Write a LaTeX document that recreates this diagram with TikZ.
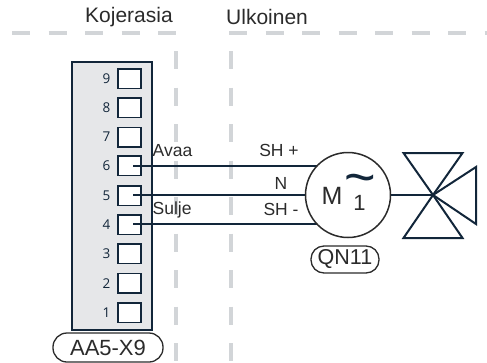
\documentclass[tikz,border=0pt]{standalone}
\usepackage{fontspec}
\setmainfont{Liberation Sans}
\newfontfamily\numfont{Open Sans}
\definecolor{wire}{HTML}{12263A}
\definecolor{dashc}{HTML}{D2D5D8}
\definecolor{boxc}{HTML}{E6E7E9}
\definecolor{txt}{HTML}{2B2B2B}
\newcommand{\fs}[1]{\fontsize{#1}{#1}\selectfont}
\tikzset{
  zone/.style={draw=dashc,line width=4pt,dash pattern=on 18pt off 18.5pt},
  wireline/.style={draw=wire,line width=2pt},
  term/.style={draw=wire,fill=white,line width=1.5pt,minimum width=23pt,minimum height=19.5pt,inner sep=0pt},
  num/.style={text=wire,inner sep=0pt,font=\numfont\fs{13.5}},
  lab/.style={text=txt,inner sep=0pt,font=\fs{17.5}},
  tagbox/.style={draw=txt,line width=1.3pt,rounded corners=13pt,fill=white,inner sep=0pt,text=txt},
}
\begin{document}
\begin{tikzpicture}[x=1pt,y=-1pt]
\useasboundingbox (0,0) rectangle (487,362);
\coordinate (za) at (12,33);
\coordinate (zb) at (178,33);
\coordinate (zc) at (229,33);
\coordinate (zd) at (487,33);
\coordinate (v1a) at (175.5,51);
\coordinate (v1b) at (175.5,362);
\coordinate (v2a) at (230.5,51);
\coordinate (v2b) at (230.5,362);
\draw[zone] (za) -- (zb);
\draw[zone] (zc) -- (zd);
\draw[zone] (v1a) -- (v1b);
\draw[zone] (v2a) -- (v2b);
\node[lab,font=\fs{21}] (kojerasia) at (129,17) {Kojerasia};
\node[lab,font=\fs{21},anchor=west] (ulkoinen) at (226,17) {Ulkoinen};
\node[draw=wire,fill=boxc,line width=1.5pt,minimum width=80pt,minimum height=268pt,inner sep=0pt] (panel) at (112,196) {};
\foreach \n/\y in {9/78.5,8/107.8,7/137,6/165.8,5/195.5,4/224.5,3/253.8,2/283.3,1/312.5}{
  \node[term] (t\n) at (129.5,\y) {};
  \node[num] (n\n) at (106.5,\y) {\n};
}
\coordinate (w6) at (133,166);
\coordinate (w5) at (133,195);
\coordinate (w4) at (133,224);
\coordinate (mc) at (348,195);
\draw[wireline] (w6) -- (mc |- w6);
\draw[wireline] (w5) -- (mc |- w5);
\draw[wireline] (w4) -- (mc |- w4);
\node[draw=txt,fill=white,line width=1.5pt,circle,minimum size=85pt,inner sep=0pt] (motor) at (mc) {};
\node[lab,anchor=west] (avaa) at (152.5,150.5) {Avaa};
\node[lab,anchor=west] (sulje) at (152.5,209.5) {Sulje};
\node[lab] (shp) at (279,150.5) {SH +};
\node[lab] (nn) at (281,183) {N};
\node[lab] (shm) at (281,209.5) {SH -};
\node[lab,font=\fs{25}] (mm) at (332,196) {M};
\node[lab,font=\fs{22}] (one) at (359.5,203) {1};
\node[text=wire,inner sep=0pt,font=\fs{54}] (tilde) at (360.5,184.5) {\string~};
\coordinate (vc) at (433,195);
\coordinate (tl) at (403.5,153);
\coordinate (tr) at (462.5,153);
\coordinate (bl) at (403.5,238);
\coordinate (br) at (462.5,238);
\coordinate (rt) at (476,167);
\coordinate (rb) at (476,224);
\draw[wireline] (motor.east) -- (vc);
\draw[wireline,line join=miter] (vc) -- (tl) -- (tr) -- cycle;
\draw[wireline,line join=miter] (vc) -- (bl) -- (br) -- cycle;
\draw[wireline,line join=miter] (vc) -- (rt) -- (rb) -- cycle;
\node[tagbox,minimum width=68pt,minimum height=27pt,font=\fs{21.5}] (qn) at (345,259.5) {QN11};
\node[tagbox,minimum width=110pt,minimum height=29pt,rounded corners=14pt,font=\fs{22}] (aa) at (108,347.5) {AA5-X9};
\end{tikzpicture}
\end{document}
